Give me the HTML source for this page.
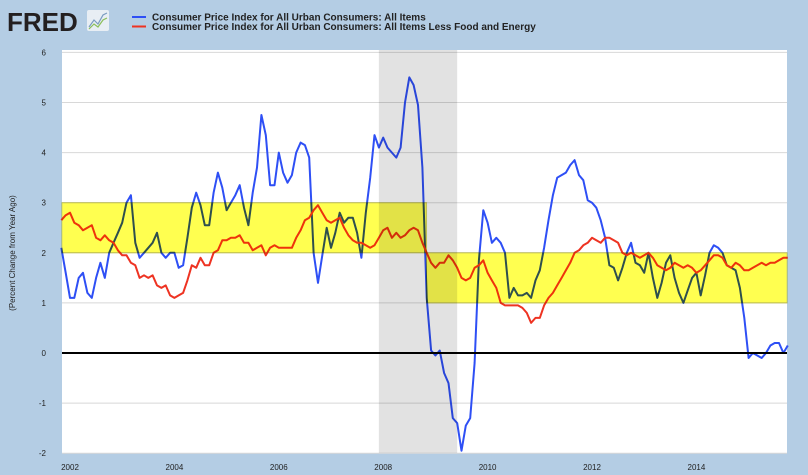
<!DOCTYPE html>
<html><head><meta charset="utf-8"><style>
body{margin:0;background:#b4cde4;font-family:"Liberation Sans",sans-serif;}
#wrap{position:relative;width:808px;height:475px;overflow:hidden;background:#b4cde4;}
</style></head><body>
<div id="wrap">
<svg id="chart" width="808" height="475" xmlns="http://www.w3.org/2000/svg">
  <text x="7" y="31" font-family="Liberation Sans, sans-serif" font-weight="bold" font-size="26" fill="#231f20">FRED</text>
  <g>
    <rect x="87" y="10" width="22" height="21" fill="#e8eef4" rx="2"/>
    <polyline points="89,27 94,20 98,24 103,15 107,13" fill="none" stroke="#7a9cc0" stroke-width="1.2"/>
    <polyline points="89,29 94,24 98,27 103,20 107,18" fill="none" stroke="#8bbf5a" stroke-width="1.2"/>
  </g>
  <g>
    <line x1="132" y1="17" x2="146" y2="17" stroke="#2e4ff5" stroke-width="2"/>
    <text x="152" y="20.5" font-size="10" font-weight="bold" fill="#222">Consumer Price Index for All Urban Consumers: All Items</text>
    <line x1="132" y1="26.5" x2="146" y2="26.5" stroke="#ee3322" stroke-width="2"/>
    <text x="152" y="30" font-size="10" font-weight="bold" fill="#222">Consumer Price Index for All Urban Consumers: All Items Less Food and Energy</text>
  </g>
  <rect x="62" y="50" width="725" height="403" fill="#ffffff"/>
  <g id="grid"></g>
  <g id="lines"></g>
  <g id="overlays"></g>
  <g id="axes"></g>
  <text transform="translate(15,253) rotate(-90)" text-anchor="middle" font-size="8" fill="#222">(Percent Change from Year Ago)</text>
</svg>
</div>
<script>
const yTicks=[6,5,4,3,2,1,0,-1,-2];
const xTickYears=[2002,2004,2006,2008,2010,2012,2014];
const startYear=2001, startMonth=10; // Nov 2001 (0-based month)
const recessions=[[2007.917,2009.417]];
const targetBands=[[2001.75,2008.83,2,3],[2008.83,2015.75,1,2]];
const allItems=[2.1,1.6,
1.1,1.1,1.5,1.6,1.2,1.1,1.5,1.8,1.5,2.0,2.2,2.4,
2.6,3.0,3.15,2.2,1.9,2.0,2.1,2.2,2.4,2.0,1.9,2.0,
2.0,1.7,1.75,2.3,2.9,3.2,2.95,2.55,2.55,3.2,3.6,3.3,
2.85,3.0,3.15,3.35,2.9,2.55,3.2,3.7,4.75,4.35,3.35,3.35,
4.0,3.6,3.4,3.55,4.0,4.2,4.15,3.9,2.0,1.4,1.95,2.5,
2.1,2.4,2.8,2.6,2.7,2.7,2.4,1.9,2.8,3.5,4.35,4.1,
4.3,4.1,4.0,3.9,4.1,5.0,5.5,5.35,4.95,3.7,1.1,0.05,
-0.05,0.05,-0.4,-0.6,-1.3,-1.4,-1.95,-1.45,-1.3,-0.2,1.85,2.85,
2.6,2.2,2.3,2.2,2.0,1.1,1.3,1.15,1.15,1.2,1.1,1.45,
1.65,2.1,2.65,3.15,3.5,3.55,3.6,3.75,3.85,3.55,3.45,3.05,
3.0,2.9,2.65,2.3,1.75,1.7,1.45,1.7,2.0,2.2,1.8,1.75,
1.6,2.0,1.5,1.1,1.4,1.8,1.95,1.5,1.2,1.0,1.25,1.5,
1.6,1.15,1.55,2.0,2.15,2.1,2.0,1.75,1.7,1.65,1.3,0.7,
-0.1,0.0,-0.05,-0.1,0.0,0.15,0.2,0.2,0.0,0.15];
const coreItems=[2.65,2.75,
2.8,2.6,2.55,2.45,2.5,2.55,2.3,2.25,2.35,2.25,2.2,2.05,
1.95,1.95,1.8,1.75,1.5,1.55,1.5,1.55,1.35,1.3,1.35,1.15,
1.1,1.15,1.2,1.45,1.75,1.7,1.9,1.75,1.75,2.0,2.05,2.25,
2.25,2.3,2.3,2.35,2.2,2.2,2.05,2.1,2.15,1.95,2.1,2.15,
2.1,2.1,2.1,2.1,2.3,2.45,2.65,2.7,2.85,2.95,2.8,2.65,
2.6,2.65,2.7,2.5,2.35,2.25,2.2,2.2,2.15,2.1,2.15,2.3,
2.45,2.5,2.3,2.4,2.3,2.35,2.45,2.5,2.45,2.2,2.0,1.8,
1.7,1.8,1.8,1.95,1.85,1.7,1.5,1.45,1.5,1.7,1.75,1.85,
1.6,1.45,1.3,1.0,0.95,0.95,0.95,0.95,0.9,0.8,0.6,0.7,
0.7,0.95,1.1,1.2,1.35,1.5,1.65,1.8,2.0,2.05,2.15,2.2,
2.3,2.25,2.2,2.3,2.3,2.25,2.2,2.0,1.95,2.0,1.95,1.9,
1.95,2.0,1.9,1.75,1.7,1.65,1.7,1.8,1.75,1.7,1.75,1.7,
1.6,1.65,1.75,1.85,1.95,1.95,1.9,1.75,1.7,1.8,1.75,1.65,
1.65,1.7,1.75,1.8,1.75,1.8,1.8,1.85,1.9,1.9];
const NS='http://www.w3.org/2000/svg';
const X0=70, PXY=52.2, Y0=353, PXV=50.1, L=62, R=787;
function xs(t){return X0+(t-2002)*PXY;}
function ys(v){return Y0-v*PXV;}
function tOf(i){return startYear+(startMonth+i)/12;}
function mk(tag,attrs,parent){const e=document.createElementNS(NS,tag);for(const k in attrs)e.setAttribute(k,attrs[k]);parent.appendChild(e);return e;}
const grid=document.getElementById('grid'),lines=document.getElementById('lines'),ov=document.getElementById('overlays'),axes=document.getElementById('axes');
yTicks.forEach(v=>{
  if(v!==0){const g=mk('line',{x1:L,x2:R,y1:ys(v),y2:ys(v),stroke:'#d8d8d8','stroke-width':1},grid);
  
  }
  const t=mk('text',{x:46,y:ys(v)+3,'text-anchor':'end','font-size':8,fill:'#222'},axes);
  t.textContent=v;
  
  
});
xTickYears.forEach(yr=>{
  const t=mk('text',{x:xs(yr),y:470,'text-anchor':'middle','font-size':8,fill:'#222'},axes);
  t.textContent=yr;
  
  
});
function series(arr,color,name){
  const pts=arr.map((v,i)=>xs(tOf(i)).toFixed(1)+','+ys(v).toFixed(1)).join(' ');
  const p=mk('polyline',{points:pts,fill:'none',stroke:color,'stroke-width':2,'stroke-linejoin':'round'},lines);
  
  
}
series(allItems,'#2e4ff5','line-all-items');
series(coreItems,'#ee3322','line-core');
targetBands.forEach(b=>{
  const x1=Math.max(L,xs(b[0])), x2=Math.min(R,xs(b[1]));
  const r=mk('rect',{x:x1,y:ys(b[3]),width:x2-x1,height:ys(b[2])-ys(b[3]),fill:'#ffff50',stroke:'#d8d860','stroke-width':1,style:'mix-blend-mode:multiply'},ov);
  
  
});
recessions.forEach(b=>{
  const r=mk('rect',{x:xs(b[0]),y:50,width:xs(b[1])-xs(b[0]),height:403,fill:'#e2e2e2',style:'mix-blend-mode:multiply'},ov);
  
  
});
const z=mk('line',{x1:L,x2:R,y1:ys(0),y2:ys(0),stroke:'#000','stroke-width':2},ov);


</script>
</body></html>
